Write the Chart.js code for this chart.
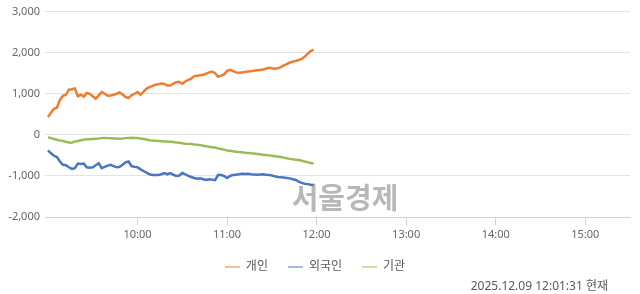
<!DOCTYPE html>
<html>
<head>
<meta charset="utf-8">
<script src="https://cdn.jsdelivr.net/npm/chart.js@4/dist/chart.umd.min.js"></script>
<style>
  html, body { margin: 0; padding: 0; background: #fff; }
  #wrap { width: 640px; height: 294px; position: relative; }
</style>
</head>
<body>
<div id="wrap"><canvas id="lineChart"></canvas></div>
<script>
// minutes after 09:00, one reading every 2 minutes
const minutes = [];
for (let m = 0; m <= 178; m += 2) minutes.push(m);

const seriesNames = ['개인', '외국인', '기관'];

const personal = [
  430, 540, 634, 660, 850, 950, 975, 1100, 1110, 1130,
  940, 975, 930, 1020, 1000, 940, 880, 960, 1040, 1000,
  950, 960, 975, 1000, 1030, 980, 920, 900, 960, 1000,
  1040, 975, 1050, 1120, 1160, 1190, 1220, 1230, 1250, 1240,
  1200, 1200, 1245, 1280, 1290, 1245, 1300, 1340, 1370, 1430,
  1440, 1450, 1460, 1490, 1520, 1540, 1500, 1415, 1440, 1470,
  1560, 1580, 1550, 1520, 1510, 1520, 1530, 1540, 1545, 1560,
  1570, 1580, 1590, 1610, 1630, 1620, 1610, 1620, 1650, 1690,
  1720, 1760, 1780, 1800, 1820, 1850, 1900, 1975, 2040, 2075
];

const foreign = [
  -380, -450, -510, -540, -650, -730, -740, -790, -830, -810,
  -700, -710, -700, -790, -800, -790, -740, -690, -810, -780,
  -750, -730, -760, -790, -780, -730, -670, -650, -760, -780,
  -790, -840, -880, -920, -960, -975, -980, -975, -960, -930,
  -960, -930, -975, -1000, -990, -930, -960, -1000, -1025, -1050,
  -1070, -1060, -1080, -1100, -1080, -1090, -1100, -975, -980, -1000,
  -1050, -1000, -980, -970, -960, -950, -955, -950, -960, -965,
  -970, -965, -960, -970, -975, -990, -1010, -1025, -1030, -1040,
  -1050, -1060, -1080, -1100, -1140, -1170, -1190, -1200, -1215, -1220
];

const institution = [
  -60, -80, -100, -120, -140, -150, -170, -185, -190, -160,
  -150, -130, -120, -110, -110, -100, -95, -90, -80, -75,
  -80, -85, -90, -90, -95, -90, -80, -75, -70, -75,
  -75, -90, -100, -115, -130, -140, -145, -150, -155, -160,
  -165, -170, -175, -185, -195, -205, -215, -220, -225, -235,
  -240, -250, -265, -280, -290, -300, -310, -330, -345, -360,
  -380, -390, -400, -410, -420, -425, -435, -440, -450, -455,
  -465, -475, -485, -490, -500, -510, -520, -530, -540, -555,
  -570, -585, -595, -605, -615, -630, -650, -665, -685, -700
];

const xTickMinutes = [60, 120, 180, 240, 300, 360];
const yTicks = [-2000, -1000, 0, 1000, 2000, 3000];
const stampText = '2025.12.09 12:01:31 현재';
const watermark = '서울경제';

const colors = ['#ed7d31', '#4a76bf', '#9bbb59'];

function pts(arr) {
  return arr.map((v, i) => ({ x: minutes[i], y: v }));
}

function hhmm(m) {
  const h = 9 + Math.floor(m / 60);
  const mm = m % 60;
  return (h < 10 ? '0' : '') + h + ':' + (mm < 10 ? '0' : '') + mm;
}

const extras = {
  id: 'extras',
  beforeDatasetsDraw(chart) {
    const ctx = chart.ctx;
    ctx.save();
    ctx.font = "bold 29px 'Noto Sans CJK KR', sans-serif";
    ctx.fillStyle = '#b8b8b8';
    ctx.textBaseline = 'middle';
    ctx.textAlign = 'center';
    ctx.fillText(watermark, 345, 198);
    ctx.restore();
  },
  afterDraw(chart) {
    const ctx = chart.ctx;
    ctx.save();
    ctx.font = "12px 'Noto Sans', 'Noto Sans CJK KR', sans-serif";
    ctx.fillStyle = '#595959';
    ctx.textAlign = 'right';
    ctx.textBaseline = 'middle';
    ctx.fillText(stampText, 608, 287);
    ctx.restore();
  }
};

Chart.defaults.font.family = "'Noto Sans', 'Noto Sans CJK KR', sans-serif";
Chart.defaults.color = '#666';

const ctx = document.getElementById('lineChart').getContext('2d');
const lineChart = new Chart(ctx, {
  type: 'line',
  data: {
    datasets: [
      { label: seriesNames[0], data: pts(personal), borderColor: colors[0], backgroundColor: colors[0] },
      { label: seriesNames[1], data: pts(foreign), borderColor: colors[1], backgroundColor: colors[1] },
      { label: seriesNames[2], data: pts(institution), borderColor: colors[2], backgroundColor: colors[2] }
    ]
  },
  options: {
    responsive: true,
    maintainAspectRatio: false,
    animation: false,
    elements: {
      point: { radius: 0 },
      line: { borderWidth: 2.5, tension: 0 }
    },
    layout: { padding: { top: 8, right: 10, left: 0, bottom: 11 } },
    plugins: {
      tooltip: { enabled: false },
      legend: {
        position: 'bottom',
        labels: {
          usePointStyle: true,
          pointStyle: 'line',
          pointStyleWidth: 15,
          padding: 20,
          color: '#595959',
          font: { size: 12 }
        }
      }
    },
    scales: {
      x: {
        type: 'linear',
        min: -2,
        max: 390,
        afterBuildTicks(scale) {
          scale.ticks = xTickMinutes.map(v => ({ value: v }));
        },
        afterFit(scale) { scale.height = 24; },
        ticks: {
          callback: v => hhmm(v),
          font: { size: 11 },
          color: '#666',
          padding: 3,
          maxRotation: 0
        },
        grid: {
          drawOnChartArea: false,
          drawTicks: true,
          tickLength: 8,
          color: '#c9d3e8'
        },
        border: { display: true, color: '#c9d3e8' }
      },
      y: {
        min: -2000,
        max: 3000,
        afterBuildTicks(scale) {
          scale.ticks = yTicks.map(v => ({ value: v }));
        },
        afterFit(scale) { scale.width = 45; },
        ticks: {
          callback: v => v.toLocaleString('en-US'),
          font: { size: 11 },
          color: '#666',
          padding: 5
        },
        grid: { color: '#e3e3e3', drawTicks: false },
        border: { display: false }
      }
    }
  },
  plugins: [extras]
});
</script>
</body>
</html>
